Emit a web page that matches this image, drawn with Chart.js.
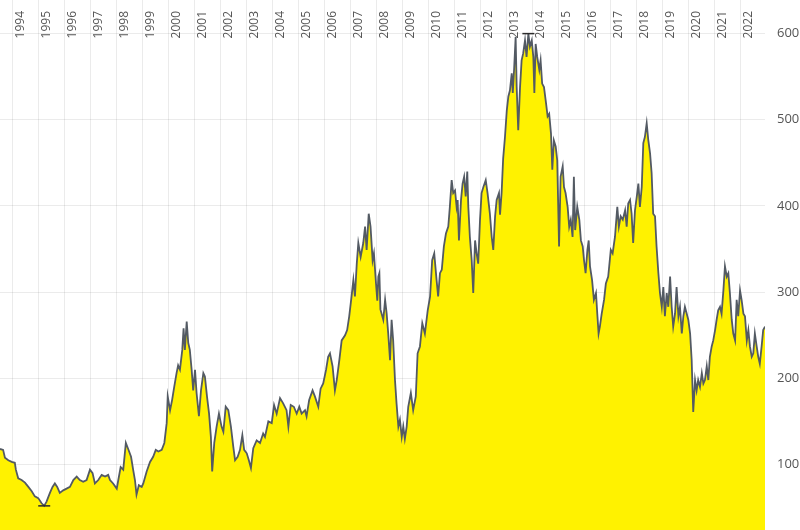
<!DOCTYPE html>
<html>
<head>
<meta charset="utf-8">
<title>Index chart 1993-2022</title>
<script src="https://cdn.jsdelivr.net/npm/chart.js@4/dist/chart.umd.min.js"></script>
<style>
  html, body { margin: 0; padding: 0; background: #fff; }
  #wrap { width: 800px; height: 530px; position: relative; }
</style>
</head>
<body>
<div id="wrap"><canvas id="chart"></canvas></div>
<script>
// ── Data ──────────────────────────────────────────────────────────────────
var dates = [
  1993.53, 1993.65, 1993.72, 1993.85, 1993.98, 1994.10, 1994.14, 1994.23, 1994.36, 1994.49,
  1994.62, 1994.75, 1994.87, 1995.00, 1995.13, 1995.23, 1995.32, 1995.45, 1995.55, 1995.64,
  1995.73, 1995.83, 1995.96, 1996.09, 1996.22, 1996.35, 1996.48, 1996.60, 1996.73, 1996.86,
  1996.99, 1997.09, 1997.18, 1997.31, 1997.44, 1997.57, 1997.69, 1997.76, 1997.88, 1998.02,
  1998.08, 1998.17, 1998.27, 1998.37, 1998.46,
  1998.57, 1998.65, 1998.72, 1998.78, 1998.87, 1998.98, 1999.04, 1999.17, 1999.30, 1999.42,
  1999.52, 1999.62, 1999.75, 1999.85, 1999.94, 1999.98, 2000.07, 2000.15, 2000.23, 2000.32,
  2000.38, 2000.45, 2000.54, 2000.59, 2000.64, 2000.71, 2000.77, 2000.83, 2000.90, 2000.96,
  2001.03, 2001.09, 2001.18, 2001.26, 2001.35, 2001.41, 2001.49, 2001.57, 2001.64, 2001.69,
  2001.77, 2001.86, 2001.95, 2002.05, 2002.12, 2002.21, 2002.31, 2002.41, 2002.50, 2002.57,
  2002.67, 2002.76, 2002.85, 2002.92, 2003.02, 2003.10, 2003.18, 2003.27,
  2003.40, 2003.53, 2003.65, 2003.72, 2003.85, 2003.98, 2004.07, 2004.17, 2004.30, 2004.42,
  2004.55, 2004.62, 2004.71, 2004.83, 2004.94, 2005.04, 2005.13, 2005.26, 2005.32, 2005.42,
  2005.55, 2005.64, 2005.77, 2005.86, 2005.96, 2006.07, 2006.15, 2006.22, 2006.32, 2006.41,
  2006.48, 2006.58, 2006.67, 2006.80, 2006.88, 2006.96, 2007.05, 2007.12, 2007.18, 2007.25,
  2007.31, 2007.40, 2007.50, 2007.57, 2007.63, 2007.71, 2007.78, 2007.86, 2007.91, 2007.99,
  2008.04, 2008.08, 2008.12, 2008.16, 2008.27, 2008.34, 2008.40, 2008.46, 2008.53, 2008.59,
  2008.65, 2008.72, 2008.78, 2008.85, 2008.91, 2008.98, 2009.04, 2009.10, 2009.17, 2009.23,
  2009.33, 2009.42, 2009.52, 2009.59, 2009.68, 2009.77, 2009.87, 2009.98,
  2010.07, 2010.15, 2010.23, 2010.32, 2010.38, 2010.45, 2010.52, 2010.60, 2010.68, 2010.77,
  2010.83, 2010.90, 2010.96, 2011.03, 2011.09, 2011.13, 2011.18, 2011.26, 2011.32, 2011.38,
  2011.44, 2011.50, 2011.54, 2011.60, 2011.67, 2011.73, 2011.80, 2011.86, 2011.92, 2011.99,
  2012.05, 2012.12, 2012.21, 2012.28, 2012.37, 2012.44, 2012.50, 2012.57, 2012.63, 2012.72,
  2012.76, 2012.82, 2012.88, 2012.95, 2013.02, 2013.08, 2013.14, 2013.21, 2013.25, 2013.30,
  2013.36, 2013.40, 2013.46, 2013.53, 2013.59, 2013.65, 2013.72, 2013.78, 2013.85, 2013.91,
  2013.98, 2014.04, 2014.08, 2014.13, 2014.19, 2014.27, 2014.32, 2014.38, 2014.45, 2014.53,
  2014.59, 2014.65, 2014.72, 2014.77, 2014.83, 2014.90, 2014.96, 2015.03, 2015.09, 2015.17,
  2015.22, 2015.28, 2015.36, 2015.42, 2015.48, 2015.55, 2015.60, 2015.65, 2015.73, 2015.81,
  2015.87, 2015.94, 2015.99, 2016.05, 2016.12, 2016.17, 2016.22, 2016.30, 2016.37, 2016.45,
  2016.50, 2016.55, 2016.60, 2016.67, 2016.76, 2016.83, 2016.92, 2017.02, 2017.09, 2017.18,
  2017.27, 2017.33, 2017.40, 2017.48, 2017.57, 2017.63, 2017.69, 2017.76, 2017.82, 2017.88,
  2017.95, 2018.02, 2018.08, 2018.14, 2018.21, 2018.27, 2018.33, 2018.40, 2018.46, 2018.53,
  2018.59, 2018.65, 2018.72, 2018.78, 2018.85, 2018.91, 2018.98, 2019.04, 2019.10, 2019.17,
  2019.23, 2019.30, 2019.36, 2019.42, 2019.49, 2019.55, 2019.62, 2019.68, 2019.75, 2019.81,
  2019.87, 2019.94, 2020.00, 2020.07, 2020.13, 2020.19, 2020.26, 2020.32, 2020.38, 2020.45,
  2020.52, 2020.58, 2020.64, 2020.71, 2020.77, 2020.83, 2020.90, 2020.96, 2021.03, 2021.09,
  2021.15, 2021.22, 2021.28, 2021.35, 2021.41, 2021.48, 2021.54, 2021.60, 2021.67, 2021.73,
  2021.80, 2021.86, 2021.92, 2021.99, 2022.05, 2022.12, 2022.18, 2022.25, 2022.31, 2022.37,
  2022.44, 2022.50, 2022.56, 2022.63, 2022.69, 2022.75, 2022.82, 2022.88, 2022.95
];

var values = [
  118, 117, 108, 105, 103, 102, 94, 84, 82, 79,
  74, 69, 63, 61, 55, 52, 57, 67, 74, 78,
  74, 67, 70, 72, 74, 82, 86, 82, 80, 82,
  94, 90, 78, 82, 88, 86, 88, 82, 78, 72,
  82, 97, 94, 125, 118,
  109, 94, 82, 65, 76, 74, 78, 92, 103, 109,
  117, 115, 117, 125, 148, 179, 163, 175, 190, 206,
  215, 210, 233, 258, 233, 266, 241, 233, 210, 186,
  210, 183, 156, 186, 206, 202, 179, 159, 132, 92,
  125, 144, 159, 144, 138, 167, 163, 144, 121, 105,
  109, 117, 134, 117, 113, 105, 96, 119,
  128, 125, 136, 132, 150, 148, 169, 159, 177, 171,
  163, 144, 169, 167, 159, 167, 159, 163, 156, 175,
  186, 179, 167, 188, 194, 210, 225, 229, 214, 186,
  198, 221, 244, 250, 256, 272, 295, 314, 295, 333,
  357, 341, 357, 376, 349, 391, 376, 337, 345, 310,
  290, 318, 322, 280, 268, 291, 275, 252, 221, 268,
  244, 198, 171, 144, 152, 132, 144, 130, 144, 167,
  183, 163, 179, 229, 237, 264, 252, 279,
  295, 337, 345, 314, 295, 322, 326, 353, 368, 376,
  399, 430, 415, 418, 399, 407, 360, 407, 426, 434,
  411, 440, 399, 364, 337, 299, 360, 345, 333, 384,
  415, 422, 430, 415, 391, 364, 349, 388, 407, 415,
  390, 415, 455, 480, 511, 527, 534, 554, 531, 558,
  596, 538, 488, 538, 569, 577, 592, 573, 600, 585,
  592, 573, 531, 588, 573, 558, 569, 542, 538, 519,
  504, 507, 484, 442, 476, 469, 453, 353, 434, 446,
  422, 415, 399, 376, 384, 364, 434, 372, 399, 384,
  360, 353, 337, 322, 349, 360, 330, 314, 291, 299,
  275, 252, 260, 275, 291, 310, 318, 349, 345, 364,
  399, 376, 388, 384, 395, 376, 403, 407, 391, 357,
  395, 411, 426, 399, 422, 473, 480, 496, 477, 461,
  438, 391, 388, 353, 322, 299, 283, 306, 272, 299,
  283, 318, 283, 260, 275, 306, 272, 283, 252, 272,
  283, 275, 268, 252, 221, 161, 198, 186, 198, 190,
  206, 194, 198, 214, 198, 225, 237, 244, 256, 268,
  279, 283, 275, 302, 330, 318, 322, 299, 268, 252,
  244, 291, 272, 302, 291, 275, 272, 244, 256, 237,
  225, 229, 252, 237, 225, 217, 237, 256, 260
];

// lowest and highest close, marked with a short dash
var extremeDates  = [1995.23, 2013.85];
var extremeValues = [52, 600];

var yearTicks  = [1994, 1995, 1996, 1997, 1998, 1999, 2000, 2001, 2002, 2003,
                  2004, 2005, 2006, 2007, 2008, 2009, 2010, 2011, 2012, 2013,
                  2014, 2015, 2016, 2017, 2018, 2019, 2020, 2021, 2022];
var valueTicks = [100, 200, 300, 400, 500, 600];

// ── Build chart ────────────────────────────────────────────────────────────
(function () {
  'use strict';

  function _pairs(xs, ys) {
    return xs.map(function (x, i) { return { x: x, y: ys[i] }; });
  }

  var GRID = 'rgba(0,0,0,0.08)';
  var FONT = { family: '"Open Sans", "Noto Sans", sans-serif', size: 13 };

  var ctx = document.getElementById('chart').getContext('2d');
  new Chart(ctx, {
    type: 'line',
    data: {
      datasets: [
        {
          label: 'extremes',
          data: _pairs(extremeDates, extremeValues),
          showLine: false,
          pointStyle: 'line',
          pointRadius: 6,
          pointBorderColor: '#2b2b2b',
          pointBorderWidth: 1.5,
          order: 0,
        },
        {
          label: 'index',
          data: _pairs(dates, values),
          borderColor: '#535a63',
          borderWidth: 1.8,
          backgroundColor: '#fff200',
          fill: 'start',
          pointRadius: 0,
          tension: 0,
          order: 1,
        },
      ],
    },
    options: {
      responsive: true,
      maintainAspectRatio: false,
      animation: false,
      layout: { padding: 0, autoPadding: false },
      plugins: { legend: { display: false }, tooltip: { enabled: false } },
      scales: {
        x: {
          type: 'linear',
          min: 1993.53,
          max: 2022.95,
          position: { y: 639 },
          border: { display: false },
          grid: { color: GRID, drawTicks: false },
          ticks: {
            autoSkip: false,
            minRotation: 90,
            maxRotation: 90,
            padding: 11,
            labelOffset: 8,
            color: '#555',
            font: { family: FONT.family, size: 12 },
            callback: function (v) { return String(v); },
          },
          afterBuildTicks: function (scale) {
            scale.ticks = yearTicks.map(function (v) { return { value: v }; });
          },
          afterFit: function (scale) {
            scale.paddingLeft = 0; scale.paddingRight = 0;
            scale.paddingTop = 0;  scale.paddingBottom = 0;
          },
        },
        y: {
          type: 'linear',
          position: 'right',
          min: 24,
          max: 639,
          border: { display: false },
          grid: { color: GRID, drawTicks: false },
          ticks: { padding: 12, color: '#555', font: FONT },
          afterBuildTicks: function (scale) {
            scale.ticks = valueTicks.map(function (v) { return { value: v }; });
          },
          afterFit: function (scale) {
            scale.width = 35;
            scale.paddingTop = 0; scale.paddingBottom = 0;
          },
        },
      },
    },
  });
}());
</script>
</body>
</html>
